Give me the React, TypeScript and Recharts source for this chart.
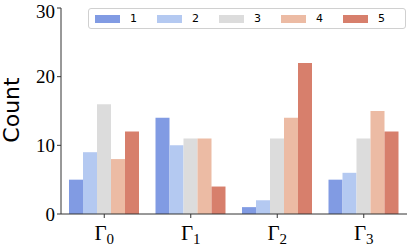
import React from 'react'
import { BarChart, Bar, XAxis, YAxis } from 'recharts'

const categories = ['0', '1', '2', '3']
const seriesNames = ['1', '2', '3', '4', '5']
const series1 = [5, 14, 1, 5]
const series2 = [9, 10, 2, 6]
const series3 = [16, 11, 11, 11]
const series4 = [8, 11, 14, 15]
const series5 = [12, 4, 22, 12]
const yTicks = [0, 10, 20, 30]

const colors = ['#819be3', '#b4c9f1', '#dcdcdc', '#ecbba4', '#d77f6c']
const allSeries = [series1, series2, series3, series4, series5]

const data = categories.map((c, i) => {
  const row: Record<string, any> = { name: c }
  seriesNames.forEach((s, j) => {
    row['s' + s] = allSeries[j][i]
  })
  return row
})

const serif = '"Liberation Serif", "DejaVu Serif", serif'
const sans = '"DejaVu Sans", sans-serif'

const GammaTick = (props: any) => {
  const { x, y, payload } = props
  return (
    <g transform={`translate(${x},${y})`}>
      <text x={0} y={0} dy={20} textAnchor="middle" fill="#000" fontFamily={serif} fontSize={21}>
        Γ<tspan fontSize={15} dy={4}>{payload.value}</tspan>
      </text>
    </g>
  )
}

// legend drawn as an overlay so it takes no room from the plot
const LegendBox = () => (
  <div
    style={{
      position: 'absolute',
      left: 88,
      top: 8,
      width: 318,
      height: 21,
      border: '1px solid #d0d0d0',
      borderRadius: 3,
      background: '#fff',
      display: 'flex',
      alignItems: 'center',
      fontFamily: sans,
      fontSize: 11,
      boxSizing: 'border-box',
    }}
  >
    {seriesNames.map((s, i) => (
      <div key={s} style={{ display: 'flex', alignItems: 'center', marginLeft: i === 0 ? 6 : 0, width: 66.5 }}>
        <span style={{ display: 'inline-block', width: 25, height: 8, background: colors[i], marginRight: 10 }} />
        <span>{s}</span>
      </div>
    ))}
  </div>
)

export default function App() {
  return (
    <div style={{ position: 'absolute', left: 0, top: 0, width: 407, height: 246, background: '#fff' }}>
      <BarChart
        width={407}
        height={246}
        data={data}
        margin={{ top: 8, right: 0, bottom: 0, left: 0 }}
        barCategoryGap={8}
        barGap={0}
      >
        <XAxis
          dataKey="name"
          height={32}
          tick={<GammaTick />}
          tickLine={{ stroke: '#333' }}
          axisLine={{ stroke: '#333' }}
          tickSize={4}
          interval={0}
        />
        <YAxis
          width={61}
          domain={[0, 30]}
          ticks={yTicks}
          tick={{ fill: '#000', fontFamily: serif, fontSize: 19 }}
          tickLine={{ stroke: '#333' }}
          axisLine={{ stroke: '#333' }}
          tickSize={4}
          tickMargin={2}
        />
        {seriesNames.map((s, i) => (
          <Bar key={s} dataKey={'s' + s} name={s} fill={colors[i]} isAnimationActive={false} />
        ))}
      </BarChart>
      <div
        style={{
          position: 'absolute',
          left: 12,
          top: 110,
          transform: 'translate(-50%, -50%) rotate(-90deg)',
          fontFamily: sans,
          fontSize: 22,
          whiteSpace: 'nowrap',
          lineHeight: 1,
        }}
      >
        Count
      </div>
      <LegendBox />
    </div>
  )
}
